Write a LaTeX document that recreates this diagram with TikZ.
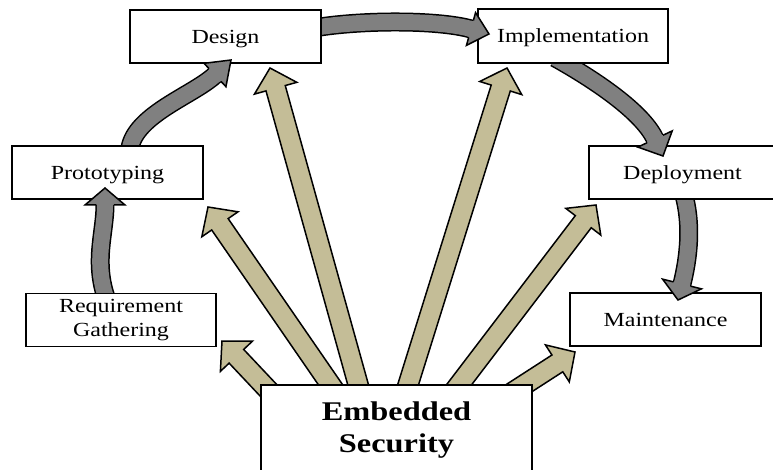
\documentclass[tikz,border=0pt]{standalone}
\usepackage{fontspec}
\setmainfont{Liberation Serif}[FakeStretch=1.2]
\usetikzlibrary{calc}
\definecolor{tanfill}{RGB}{196,189,151}
\definecolor{greyfill}{RGB}{128,128,128}
\pgfdeclarelayer{bg}
\pgfdeclarelayer{fg}
\pgfsetlayers{bg,main,fg}
\tikzset{
  box/.style={draw=black, line width=1.5pt, fill=white, inner sep=0pt, align=center,
    font=\fontsize{20}{24}\selectfont},
  onebox/.style={box, text height=13.4pt, text depth=0pt},
  bigbox/.style={box, font=\fontsize{27}{32}\selectfont\bfseries},
  tanarrowstyle/.style={fill=tanfill, draw=black, line width=1.5pt, line join=miter},
}
\newcommand{\tanblock}[2]{%
  \coordinate (hb) at ($(#2)!21pt!(#1)$);
  \filldraw[tanarrowstyle] ($(#1)!10pt!90:(#2)$) -- ($(hb)!10pt!90:(#2)$) -- ($(hb)!22pt!90:(#2)$) -- (#2) -- ($(hb)!22pt!-90:(#2)$) -- ($(hb)!10pt!-90:(#2)$) -- ($(#1)!10pt!-90:(#2)$) -- cycle;
}
\newcommand{\greyshaft}[4]{%
  \draw[line width=19pt, black] (#1) .. controls (#2) and (#3) .. (#4);
  \draw[line width=16pt, greyfill] (#1) .. controls (#2) and (#3) .. (#4);
}
\newcommand{\greyhead}[3]{%
  \coordinate (gb) at ($(#1)!-2pt!(#2)$);
  \fill[greyfill] ($(gb)!8pt!90:(#2)$) -- ($(#1)!8pt!90:(#2)$) -- ($(#1)!#3!90:(#2)$) -- (#2) -- ($(#1)!#3!-90:(#2)$) -- ($(#1)!8pt!-90:(#2)$) -- ($(gb)!8pt!-90:(#2)$) -- cycle;
  \draw[line width=1.5pt, line join=miter] ($(#1)!8.75pt!90:(#2)$) -- ($(#1)!#3!90:(#2)$) -- (#2) -- ($(#1)!#3!-90:(#2)$) -- ($(#1)!8.75pt!-90:(#2)$);
}
\begin{document}
\begin{tikzpicture}[x=1pt, y=-1pt]
\useasboundingbox (0,0) rectangle (773,470);
\clip (0,0) rectangle (773,470);

% boxes
\node[onebox, minimum width=191pt, minimum height=53pt] (design) at (225.5,36.5) {Design};
\node[onebox, minimum width=190pt, minimum height=54pt] (impl) at (573,36) {Implementation};
\node[onebox, minimum width=191pt, minimum height=53pt] (proto) at (107.5,172.5) {Prototyping};
\node[onebox, minimum width=187pt, minimum height=53pt] (deploy) at (682.5,172.5) {Deployment};
\node[box, minimum width=190pt, minimum height=53pt] (req) at (121,320) {Requirement\\Gathering};
\node[onebox, minimum width=191pt, minimum height=53pt] (maint) at (665.5,319.5) {Maintenance};
\node[bigbox, minimum width=271pt, minimum height=91pt] (es) at (396.5,430.5) {Embedded\\Security};

% tan arrows (behind)
\coordinate (t1s) at ($(es.north)+(-105.5,30)$);
\coordinate (t1e) at (222,341);
\coordinate (t2s) at ($(es.north)+(-41.5,36)$);
\coordinate (t2e) at (208,207);
\coordinate (t3s) at ($(es.north)+(-28.5,36)$);
\coordinate (t3e) at (270,68);
\coordinate (t4s) at ($(es.north)+(0.5,36)$);
\coordinate (t4e) at (507,68);
\coordinate (t5s) at ($(es.north)+(35.5,36)$);
\coordinate (t5e) at (596,205);
\coordinate (t6s) at ($(es.north)+(94.5,22)$);
\coordinate (t6e) at (575,352);

% grey cycle arrows
\coordinate (g1s) at ($(req.north)+(-14,7.5)$);
\coordinate (g1h) at (105,205);
\coordinate (g1t) at (105,188);
\coordinate (g1a) at (93,262);
\coordinate (g1b) at ($(g1h)!-28pt!(g1t)$);

\coordinate (g2s) at ($(proto.north)+(22,7)$);
\coordinate (g2h) at (215,75);
\coordinate (g2t) at (231,60);
\coordinate (g2a) at (131,116);
\coordinate (g2b) at ($(g2h)!-30pt!(g2t)$);

\coordinate (g3s) at ($(design.east)+(-8,-8.5)$);
\coordinate (g3h) at (471,29);
\coordinate (g3t) at (489,34);
\coordinate (g3a) at (360,20);
\coordinate (g3b) at ($(g3h)!-35pt!(g3t)$);

\coordinate (g4s) at ($(impl.south)+(-18,-6)$);
\coordinate (g4h) at (655,139);
\coordinate (g4t) at (663,156);
\coordinate (g4a) at (595,80);
\coordinate (g4b) at ($(g4h)!-30pt!(g4t)$);

\coordinate (g5s) at ($(deploy.south)+(0.5,-8)$);
\coordinate (g5h) at (682,284);
\coordinate (g5t) at (678,300);
\coordinate (g5a) at (693,225);
\coordinate (g5b) at ($(g5h)!-25pt!(g5t)$);

\begin{pgfonlayer}{bg}
\fill[white] (0,0) rectangle (773,470);
\tanblock{t1s}{t1e}
\tanblock{t2s}{t2e}
\tanblock{t3s}{t3e}
\tanblock{t4s}{t4e}
\tanblock{t5s}{t5e}
\tanblock{t6s}{t6e}
\greyshaft{g1s}{g1a}{g1b}{g1h}
\greyshaft{g2s}{g2a}{g2b}{g2h}
\greyshaft{g3s}{g3a}{g3b}{g3h}
\greyshaft{g4s}{g4a}{g4b}{g4h}
\greyshaft{g5s}{g5a}{g5b}{g5h}
\end{pgfonlayer}

\begin{pgfonlayer}{fg}
\greyhead{g1h}{g1t}{20pt}
\greyhead{g2h}{g2t}{16pt}
\greyhead{g3h}{g3t}{17pt}
\greyhead{g4h}{g4t}{19pt}
\greyhead{g5h}{g5t}{20pt}
\end{pgfonlayer}
\end{tikzpicture}
\end{document}
